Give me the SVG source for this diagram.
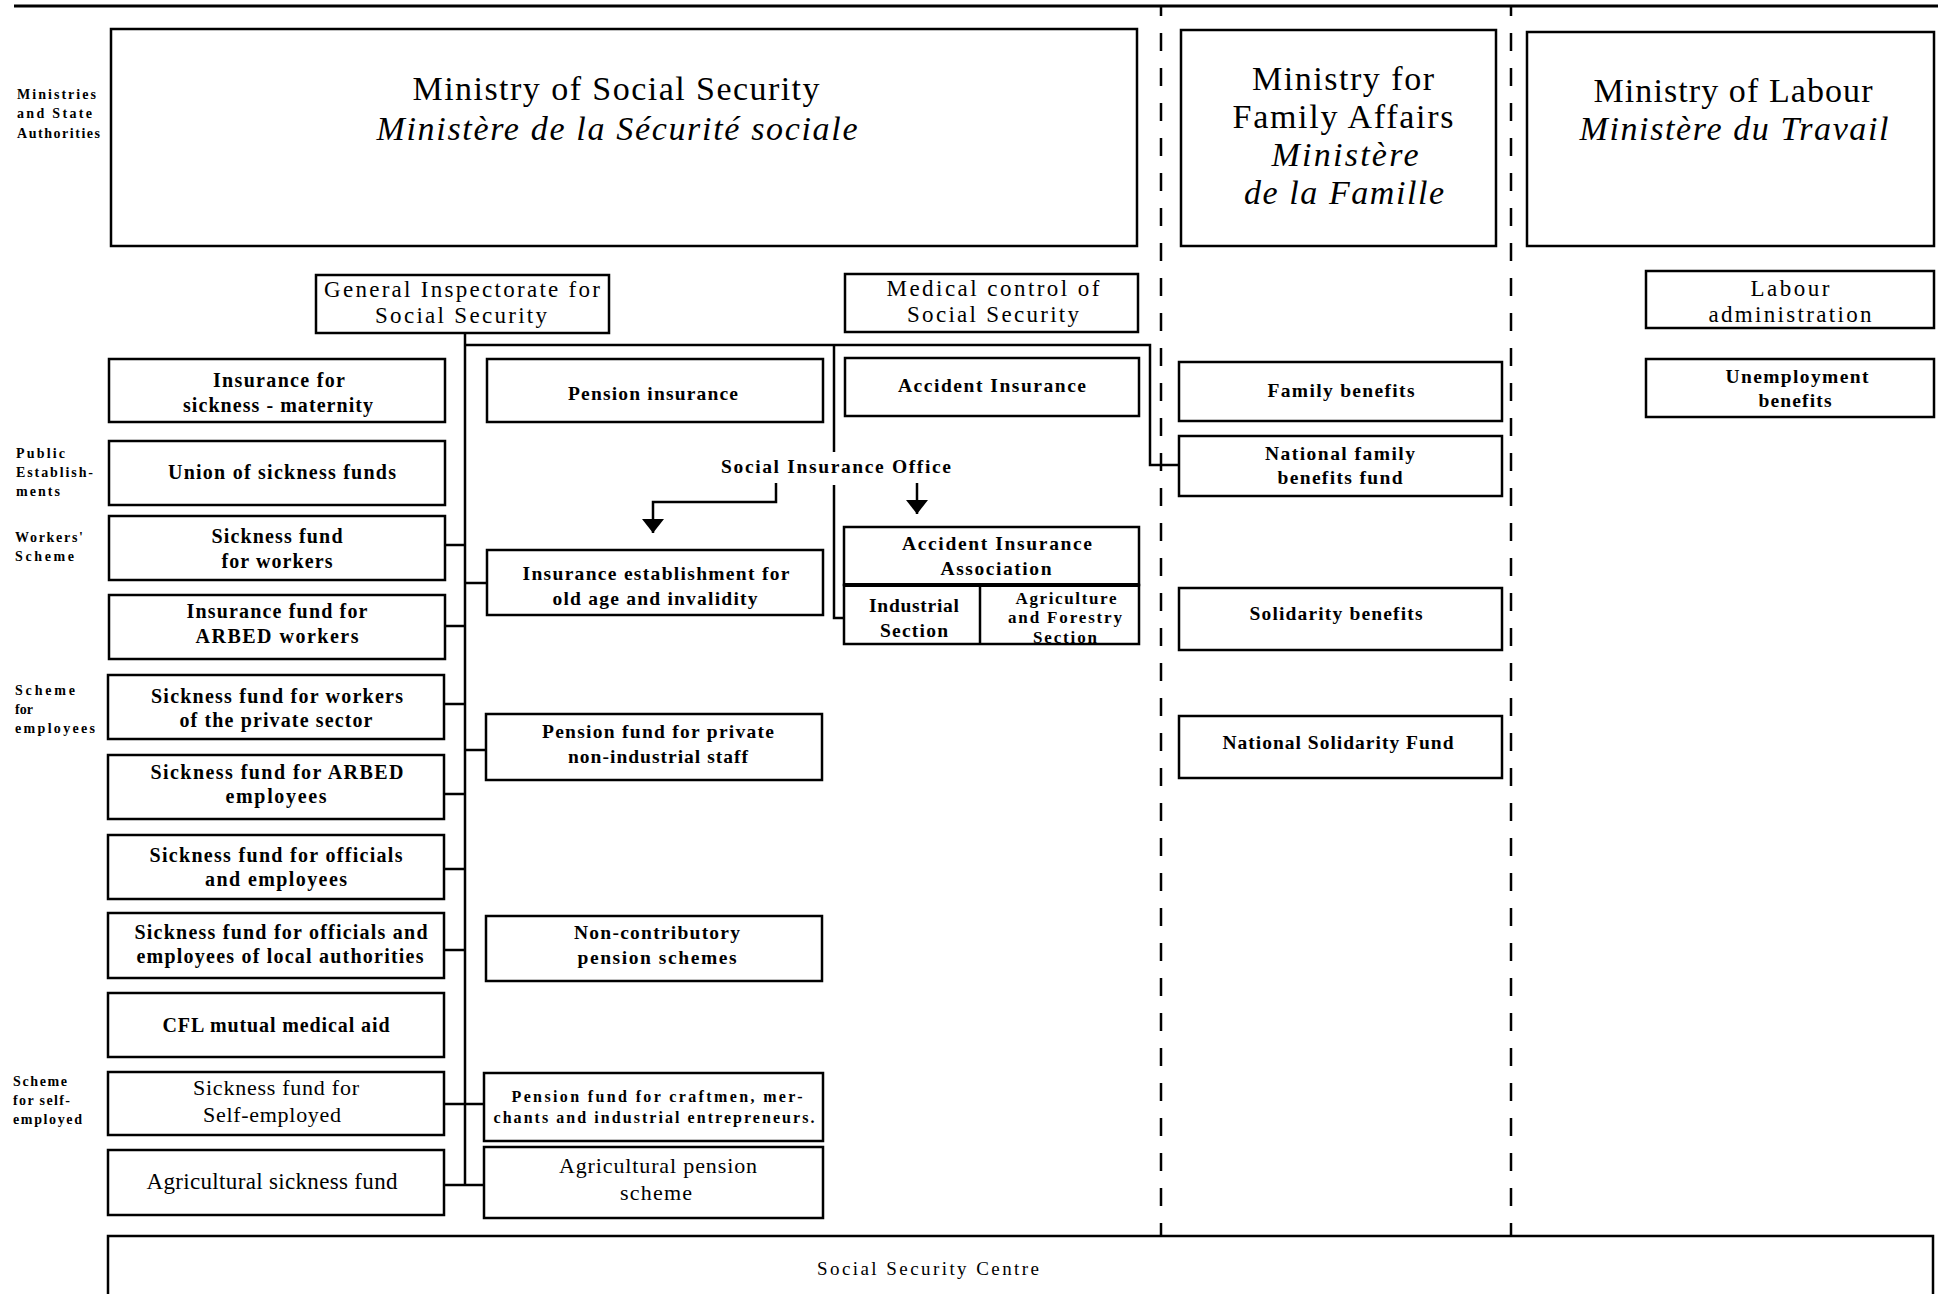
<svg xmlns="http://www.w3.org/2000/svg" width="1938" height="1294" viewBox="0 0 1938 1294">
<defs>
<style>
.box{fill:#fff;stroke:#000;stroke-width:2.5}
.ln{fill:none;stroke:#000;stroke-width:2.5}
.dash{fill:none;stroke:#000;stroke-width:2.5;stroke-dasharray:18 17;stroke-dashoffset:5}
text{font-family:"Liberation Serif","Times New Roman",serif;fill:#000;text-anchor:middle}
.big{font-size:34px}
.it{font-style:italic}
.med{font-size:23px}
.b{font-weight:bold;font-size:20px}
.bs{font-weight:bold;font-size:19.5px}
.bx{font-weight:bold;font-size:16px}
.reg{font-size:22px}
.sm{font-size:19px}
.lab{font-weight:bold;font-size:14px;text-anchor:start}
</style>
<marker id="ah" viewBox="0 0 14 22" refX="14" refY="11" markerWidth="14" markerHeight="22" markerUnits="userSpaceOnUse" orient="auto">
<path d="M0,0 L14,11 L0,22 z" fill="#000"/>
</marker>
</defs>
<rect x="0" y="0" width="1938" height="1294" fill="#fff"/>

<g id="frame">
<line class="ln" x1="14" y1="6" x2="1938" y2="6" style="stroke-width:3"/>
<line class="dash" x1="1161" y1="1236" x2="1161" y2="7"/>
<line class="dash" x1="1511" y1="1236" x2="1511" y2="7"/>
</g>

<g id="side-labels">
<text class="lab" x="17" y="99" textLength="79">Ministries</text>
<text class="lab" x="17" y="118" textLength="75">and State</text>
<text class="lab" x="17" y="138" textLength="83">Authorities</text>
<text class="lab" x="16" y="458" textLength="49">Public</text>
<text class="lab" x="16" y="477" textLength="77">Establish-</text>
<text class="lab" x="16" y="496" textLength="44">ments</text>
<text class="lab" x="15" y="542" textLength="68">Workers'</text>
<text class="lab" x="15" y="561" textLength="59">Scheme</text>
<text class="lab" x="15" y="695" textLength="60">Scheme</text>
<text class="lab" x="15" y="714" textLength="18">for</text>
<text class="lab" x="15" y="733" textLength="80">employees</text>
<text class="lab" x="13" y="1086" textLength="54">Scheme</text>
<text class="lab" x="13" y="1105" textLength="57">for self-</text>
<text class="lab" x="13" y="1124" textLength="69">employed</text>
</g>

<g id="connectors">
<path class="ln" d="M465,333 V1185"/>
<path class="ln" d="M465,345 H1150 V465 H1179"/>
<path class="ln" d="M834,345 V452"/>
<path class="ln" d="M834,485 V618 H844"/>
<path class="ln" d="M444,545 H465 M444,626 H465 M444,704 H465 M444,794 H465 M444,869 H465 M444,950 H465 M444,1104 H484 M444,1185 H484"/>
<path class="ln" d="M465,583 H487 M465,750 H486"/>
<path class="ln" d="M776,483 V502 H653 V533" marker-end="url(#ah)"/>
<path class="ln" d="M917,483 V514" marker-end="url(#ah)"/>
</g>

<g id="ministry-social-security">
<rect class="box" x="111" y="29" width="1026" height="217"/>
<text class="big" x="616" y="100" textLength="407">Ministry of Social Security</text>
<text class="big it" x="617" y="140" textLength="481">Ministère de la Sécurité sociale</text>
</g>
<g id="ministry-family">
<rect class="box" x="1181" y="30" width="315" height="216"/>
<text class="big" x="1343" y="90" textLength="182">Ministry for</text>
<text class="big" x="1343" y="128" textLength="221">Family Affairs</text>
<text class="big it" x="1345" y="166" textLength="147">Ministère</text>
<text class="big it" x="1344" y="204" textLength="200">de la Famille</text>
</g>
<g id="ministry-labour">
<rect class="box" x="1527" y="32" width="407" height="214"/>
<text class="big" x="1733" y="102" textLength="279">Ministry of Labour</text>
<text class="big it" x="1734" y="140" textLength="309">Ministère du Travail</text>
</g>

<g id="general-inspectorate">
<rect class="box" x="316" y="275" width="293" height="58"/>
<text class="med" x="462" y="297" textLength="276">General Inspectorate for</text>
<text class="med" x="461" y="323" textLength="172">Social Security</text>
</g>
<g id="medical-control">
<rect class="box" x="845" y="274" width="293" height="58"/>
<text class="med" x="993" y="296" textLength="213">Medical control of</text>
<text class="med" x="993" y="322" textLength="172">Social Security</text>
</g>
<g id="labour-administration">
<rect class="box" x="1646" y="271" width="288" height="57"/>
<text class="med" x="1790" y="296" textLength="79">Labour</text>
<text class="med" x="1790" y="322" textLength="163">administration</text>
</g>
<g id="unemployment-benefits">
<rect class="box" x="1646" y="359" width="288" height="58"/>
<text class="bs" x="1797" y="383" textLength="143">Unemployment</text>
<text class="bs" x="1795" y="407" textLength="73">benefits</text>
</g>

<g id="insurance-sickness-maternity">
<rect class="box" x="109" y="359" width="336" height="63"/>
<text class="b" x="279" y="387" textLength="132">Insurance for</text>
<text class="b" x="278" y="412" textLength="190">sickness - maternity</text>
</g>
<g id="union-sickness-funds">
<rect class="box" x="109" y="441" width="336" height="64"/>
<text class="b" x="282" y="479" textLength="228">Union of sickness funds</text>
</g>
<g id="sickness-fund-workers">
<rect class="box" x="109" y="516" width="336" height="64"/>
<text class="b" x="277" y="543" textLength="131">Sickness fund</text>
<text class="b" x="277" y="568" textLength="111">for workers</text>
</g>
<g id="insurance-fund-arbed-workers">
<rect class="box" x="109" y="595" width="336" height="64"/>
<text class="b" x="277" y="618" textLength="181">Insurance fund for</text>
<text class="b" x="277" y="643" textLength="163">ARBED workers</text>
</g>
<g id="sickness-fund-private">
<rect class="box" x="108" y="675" width="336" height="64"/>
<text class="b" x="277" y="703" textLength="252">Sickness fund for workers</text>
<text class="b" x="276" y="727" textLength="193">of the private sector</text>
</g>
<g id="sickness-fund-arbed-employees">
<rect class="box" x="108" y="755" width="336" height="64"/>
<text class="b" x="277" y="779" textLength="253">Sickness fund for ARBED</text>
<text class="b" x="276" y="803" textLength="101">employees</text>
</g>
<g id="sickness-fund-officials">
<rect class="box" x="108" y="835" width="336" height="64"/>
<text class="b" x="276" y="862" textLength="253">Sickness fund for officials</text>
<text class="b" x="276" y="886" textLength="142">and employees</text>
</g>
<g id="sickness-fund-local">
<rect class="box" x="108" y="913" width="336" height="65"/>
<text class="b" x="281" y="939" textLength="293">Sickness fund for officials and</text>
<text class="b" x="280" y="963" textLength="287">employees of local authorities</text>
</g>
<g id="cfl-mutual">
<rect class="box" x="108" y="993" width="336" height="64"/>
<text class="b" x="276" y="1032" textLength="227">CFL mutual medical aid</text>
</g>
<g id="sickness-fund-self-employed">
<rect class="box" x="108" y="1072" width="336" height="63"/>
<text class="reg" x="276" y="1095" textLength="166">Sickness fund for</text>
<text class="reg" x="272" y="1122" textLength="138">Self-employed</text>
</g>
<g id="agricultural-sickness-fund">
<rect class="box" x="108" y="1150" width="336" height="65"/>
<text class="reg" x="272" y="1189" textLength="251" style="font-size:23px">Agricultural sickness fund</text>
</g>

<g id="pension-insurance">
<rect class="box" x="487" y="359" width="336" height="63"/>
<text class="bs" x="653" y="400" textLength="170">Pension insurance</text>
</g>
<g id="insurance-establishment">
<rect class="box" x="487" y="550" width="336" height="65"/>
<text class="bs" x="656" y="580" textLength="267">Insurance establishment for</text>
<text class="bs" x="655" y="605" textLength="205">old age and invalidity</text>
</g>
<g id="pension-fund-private">
<rect class="box" x="486" y="714" width="336" height="66"/>
<text class="bs" x="658" y="738" textLength="232">Pension fund for private</text>
<text class="bs" x="658" y="763" textLength="180">non-industrial staff</text>
</g>
<g id="non-contributory">
<rect class="box" x="486" y="916" width="336" height="65"/>
<text class="bs" x="657" y="939" textLength="166">Non-contributory</text>
<text class="bs" x="657" y="964" textLength="159">pension schemes</text>
</g>
<g id="pension-fund-craftmen">
<rect class="box" x="484" y="1073" width="339" height="68"/>
<text class="bx" x="657" y="1102" textLength="291">Pension fund for craftmen, mer-</text>
<text class="bx" x="654" y="1123" textLength="321">chants and industrial entrepreneurs.</text>
</g>
<g id="agricultural-pension">
<rect class="box" x="484" y="1147" width="339" height="71"/>
<text class="reg" x="658" y="1173" textLength="198">Agricultural pension</text>
<text class="reg" x="656" y="1200" textLength="72">scheme</text>
</g>

<g id="accident-insurance">
<rect class="box" x="845" y="358" width="294" height="58"/>
<text class="bs" x="992" y="392" textLength="188">Accident Insurance</text>
</g>
<g id="social-insurance-office">
<text class="bs" x="836" y="473" textLength="230">Social Insurance Office</text>
</g>
<g id="accident-insurance-association">
<rect class="box" x="844" y="527" width="295" height="58"/>
<text class="bs" x="997" y="550" textLength="190">Accident Insurance</text>
<text class="bs" x="996" y="575" textLength="111">Association</text>
</g>
<g id="sections">
<rect class="box" x="844" y="585" width="295" height="59"/>
<line class="ln" x1="844" y1="585" x2="1139" y2="585" style="stroke-width:4"/>
<line class="ln" x1="980" y1="585" x2="980" y2="644"/>
<text class="bs" x="914" y="612" textLength="90">Industrial</text>
<text class="bs" x="914" y="637" textLength="68">Section</text>
<text class="bs" x="1066" y="604" textLength="101" style="font-size:17px">Agriculture</text>
<text class="bs" x="1065" y="623" textLength="114" style="font-size:17px">and Forestry</text>
<text class="bs" x="1065" y="643" textLength="64" style="font-size:17px">Section</text>
</g>

<g id="family-benefits">
<rect class="box" x="1179" y="362" width="323" height="59"/>
<text class="bs" x="1341" y="397" textLength="147">Family benefits</text>
</g>
<g id="national-family-fund">
<rect class="box" x="1179" y="436" width="323" height="60"/>
<text class="bs" x="1340" y="460" textLength="150">National family</text>
<text class="bs" x="1340" y="484" textLength="125">benefits fund</text>
</g>
<g id="solidarity-benefits">
<rect class="box" x="1179" y="588" width="323" height="62"/>
<text class="bs" x="1336" y="620" textLength="173">Solidarity benefits</text>
</g>
<g id="national-solidarity-fund">
<rect class="box" x="1179" y="716" width="323" height="62"/>
<text class="bs" x="1338" y="749" textLength="231">National Solidarity Fund</text>
</g>

<g id="social-security-centre">
<rect class="box" x="108" y="1236" width="1825" height="80"/>
<text class="sm" x="928" y="1275" textLength="222">Social Security Centre</text>
</g>
</svg>
